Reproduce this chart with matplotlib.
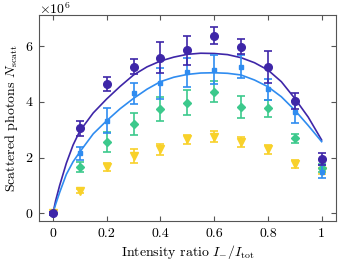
import matplotlib
matplotlib.use("Agg")
import matplotlib.pyplot as plt
import numpy as np

plt.rcParams['font.family'] = 'serif'
plt.rcParams['font.serif'] = ['cmr10', 'DejaVu Serif']
plt.rcParams['mathtext.fontset'] = 'cm'
plt.rcParams['axes.unicode_minus'] = False
plt.rcParams['axes.formatter.use_mathtext'] = True

# ---- data (photons in units of 1e6) ----
ratio = [0.0, 0.1, 0.2, 0.3, 0.4, 0.5, 0.6, 0.7, 0.8, 0.9, 1.0]

purple_y = [0.0, 3.05, 4.63, 5.25, 5.58, 5.85, 6.37, 5.97, 5.25, 4.03, 1.95]
purple_e = [0.05, 0.27, 0.25, 0.27, 0.56, 0.52, 0.30, 0.27, 0.57, 0.30, 0.20]

blue_y = [0.0, 2.15, 3.32, 4.30, 4.66, 5.05, 5.14, 5.25, 4.44, 3.62, 1.50]
blue_e = [0.05, 0.22, 0.44, 0.37, 0.56, 0.53, 0.52, 0.41, 0.37, 0.39, 0.25]

green_y = [0.0, 1.67, 2.57, 3.20, 3.74, 3.96, 4.36, 3.82, 3.76, 2.69, 1.62]
green_e = [0.05, 0.18, 0.36, 0.40, 0.42, 0.45, 0.37, 0.39, 0.31, 0.17, 0.15]

yellow_y = [0.0, 0.80, 1.67, 2.05, 2.29, 2.65, 2.75, 2.55, 2.29, 1.77, 1.52]
yellow_e = [0.05, 0.06, 0.14, 0.26, 0.21, 0.17, 0.20, 0.18, 0.15, 0.15, 0.10]

# fitted curves
curve_x = [0.0, 0.01, 0.025, 0.05, 0.075, 0.1, 0.15, 0.2, 0.25, 0.3, 0.35, 0.4, 0.45,
           0.5, 0.55, 0.6, 0.65, 0.7, 0.75, 0.8, 0.85, 0.9, 0.95, 1.0]
purple_fit = [0.0, 0.45, 1.0, 1.8, 2.45, 2.95, 3.6, 4.1, 4.55, 4.96, 5.25, 5.46, 5.6,
              5.70, 5.74, 5.73, 5.69, 5.58, 5.40, 5.14, 4.72, 4.12, 3.45, 2.63]
blue_fit = [0.0, 0.32, 0.75, 1.4, 1.85, 2.2, 2.85, 3.32, 3.75, 4.12, 4.45, 4.72, 4.88,
            4.98, 5.03, 5.04, 5.02, 4.96, 4.78, 4.54, 4.18, 3.70, 3.15, 2.57]

c_purple = '#3e26a8'
c_blue = '#2f8cf0'
c_green = '#3cc98c'
c_yellow = '#f8d12a'

fig = plt.figure(figsize=(3.39, 2.60), dpi=100)
ax = fig.add_axes([0.1165, 0.151, 0.8735, 0.791])

ax.plot(curve_x, purple_fit, color=c_purple, lw=1.2, zorder=3)
ax.plot(curve_x, blue_fit, color=c_blue, lw=1.2, zorder=3)

def series(y, e, color, marker, ms, z):
    ax.errorbar(ratio, y, yerr=e, fmt=marker, color=color, ecolor=color,
                elinewidth=1.2, capsize=3.2, capthick=1.2, ms=ms,
                mec=color, mfc=color, zorder=z, alpha=1.0)

series(yellow_y, yellow_e, c_yellow, 'v', 5.5, 4)
series(green_y, green_e, c_green, 'D', 4.0, 5)
series(blue_y, blue_e, c_blue, 's', 3.2, 6)
series(purple_y, purple_e, c_purple, 'o', 5.5, 7)

ax.set_xlim(-0.05, 1.052)
ax.set_ylim(-0.265, 7.107)
ax.set_xticks([0, 0.2, 0.4, 0.6, 0.8, 1.0])
ax.set_xticklabels(['0', '0.2', '0.4', '0.6', '0.8', '1'])
ax.set_yticks([0, 2, 4, 6])
ax.set_yticklabels(['0', '2', '4', '6'])

ax.tick_params(direction='in', top=True, right=True, length=3.5, width=0.8,
               labelsize=10, color='#555555', pad=5)
for s in ax.spines.values():
    s.set_color('#555555')
    s.set_linewidth(0.8)

ax.set_xlabel(r'Intensity ratio $I_{-}/I_{\mathrm{tot}}$', fontsize=10, labelpad=2)
ax.set_ylabel(r'Scattered photons $N_{\mathrm{scatt}}$', fontsize=10, labelpad=4)
ax.text(0.0, 1.006, r'$\times 10^{6}$', transform=ax.transAxes, fontsize=10,
        ha='left', va='baseline')

fig.savefig('out.png', dpi=100)
